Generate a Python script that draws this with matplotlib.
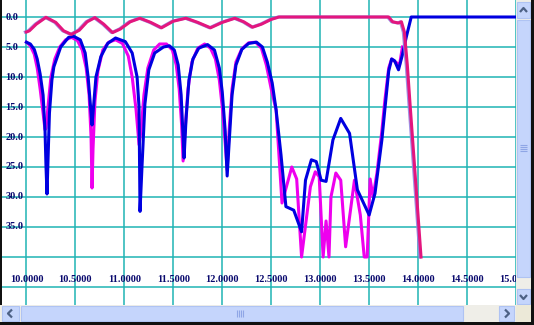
import numpy as np
import matplotlib.pyplot as plt
from matplotlib.patches import Rectangle
from matplotlib.lines import Line2D
import matplotlib.patheffects as pe

# frequency (x) values and response (y, inverted axis)
blue_x = [10.00, 10.04, 10.08, 10.11, 10.14, 10.17, 10.19, 10.20, 10.21, 10.22, 10.235, 10.26,
          10.28, 10.35, 10.43, 10.48, 10.55, 10.60, 10.63, 10.655, 10.67, 10.69, 10.71, 10.76,
          10.83, 10.91, 11.01, 11.08, 11.13, 11.15, 11.16, 11.18, 11.21, 11.25, 11.31, 11.40,
          11.46, 11.51, 11.55, 11.58, 11.60, 11.61, 11.63, 11.66, 11.70, 11.76, 11.85, 11.92,
          11.97, 12.00, 12.03, 12.05, 12.07, 12.10, 12.14, 12.20, 12.27, 12.35, 12.41, 12.46,
          12.51, 12.55, 12.60, 12.65, 12.73, 12.81, 12.85, 12.91, 12.96, 13.01, 13.06, 13.13,
          13.21, 13.30, 13.38, 13.50, 13.56, 13.63, 13.66, 13.70, 13.73, 13.76, 13.80, 13.84,
          13.88, 13.93, 15.00]
blue_y = [4.2, 4.5, 5.4, 7.0, 9.5, 13.0, 19.0, 25.0, 29.5, 24.0, 16.0, 10.5,
          8.3, 5.0, 3.4, 3.2, 3.8, 6.0, 10.0, 15.0, 18.0, 14.0, 10.0, 6.6,
          4.4, 3.5, 4.1, 6.0, 10.0, 15.0, 32.4, 25.0, 14.5, 8.8, 6.0, 5.0,
          4.8, 5.5, 8.0, 13.0, 20.0, 23.5, 17.0, 10.5, 7.0, 5.2, 4.6, 5.5,
          8.5, 12.5, 19.0, 26.5, 21.0, 13.0, 8.0, 5.4, 4.4, 4.2, 5.0, 7.5,
          11.0, 15.5, 23.0, 31.6, 32.2, 35.8, 27.2, 23.8, 24.1, 27.2, 27.4, 20.5,
          16.9, 19.4, 28.8, 33.0, 29.4, 20.5, 15.5, 9.0, 7.0, 7.3, 8.8, 6.3,
          3.3, 0.0, 0.0]

magenta_x = [10.00, 10.04, 10.08, 10.11, 10.14, 10.17, 10.19, 10.20, 10.22, 10.25, 10.29, 10.34,
             10.40, 10.46, 10.52, 10.57, 10.61, 10.64, 10.66, 10.67, 10.68, 10.70, 10.73, 10.78,
             10.84, 10.91, 10.98, 11.04, 11.08, 11.12, 11.15, 11.17, 11.20, 11.24, 11.30, 11.36,
             11.43, 11.49, 11.53, 11.56, 11.585, 11.60, 11.62, 11.65, 11.69, 11.75, 11.82, 11.88,
             11.93, 11.97, 12.00, 12.03, 12.05, 12.07, 12.10, 12.14, 12.20, 12.27, 12.34, 12.40,
             12.45, 12.50, 12.55, 12.61, 12.71, 12.76, 12.81, 12.90, 12.95, 12.99, 13.03, 13.06,
             13.09, 13.11, 13.16, 13.21, 13.26, 13.35, 13.41, 13.45, 13.48, 13.51, 13.54, 13.58,
             13.63, 13.66, 13.70, 13.73, 13.77, 13.81, 13.84]
magenta_y = [4.2, 4.8, 6.2, 8.5, 12.0, 16.0, 18.8, 18.5, 15.0, 10.0, 7.0, 5.0,
             3.8, 3.4, 3.9, 5.5, 8.5, 13.0, 20.0, 28.5, 22.0, 14.0, 9.0, 5.5,
             4.2, 3.8, 4.4, 6.5, 10.0, 15.5, 21.3, 19.0, 13.0, 8.5, 5.5, 4.5,
             4.5, 5.5, 8.0, 12.0, 18.0, 24.0, 19.0, 12.0, 7.5, 5.2, 4.5, 5.2,
             7.0, 10.5, 15.0, 21.0, 25.5, 19.0, 12.0, 7.5, 5.3, 4.3, 4.2, 5.2,
             8.0, 12.0, 15.5, 31.0, 25.0, 27.0, 40.0, 28.3, 25.8, 26.6, 40.0, 34.0,
             40.0, 30.0, 26.0, 27.2, 38.3, 27.2, 33.0, 40.0, 40.0, 27.0, 30.0, 26.0,
             19.0, 14.0, 8.5, 7.0, 7.5, 8.0, 5.0]

pink_x = [10.00, 10.03, 10.10, 10.20, 10.30, 10.38, 10.46, 10.54, 10.62, 10.70, 10.79, 10.88,
          10.96, 11.06, 11.16, 11.27, 11.38, 11.50, 11.63, 11.75, 11.88, 12.00, 12.13, 12.22,
          12.31, 12.40, 12.50, 12.58, 13.70, 13.74, 13.80, 13.83, 13.86, 13.89, 13.92, 13.96,
          14.03]
pink_y = [2.5, 2.3, 1.2, 0.05, 0.9, 2.3, 2.9, 2.2, 0.8, 0.1, 1.2, 2.6,
          2.0, 0.8, 0.2, 0.9, 1.8, 0.7, 0.2, 0.9, 1.8, 0.9, 0.2, 0.8,
          1.7, 1.2, 0.4, 0.0, 0.0, 0.8, 1.0, 0.8, 2.5, 8.0, 15.0, 24.0,
          40.0]

x_ticks = [10.0, 10.5, 11.0, 11.5, 12.0, 12.5, 13.0, 13.5, 14.0, 14.5, 15.0]
x_labels = ["10.0000", "10.5000", "11.0000", "11.5000", "12.0000", "12.5000",
            "13.0000", "13.5000", "14.0000", "14.5000", "15.0000"]
y_ticks = [0, 5, 10, 15, 20, 25, 30, 35, 40, 45]
y_labels = ["0.0", "5.0", "10.0", "15.0", "20.0", "25.0", "30.0", "35.0"]

W, H = 534, 325
fig = plt.figure(figsize=(W / 100, H / 100), dpi=100)
fig.patch.set_facecolor('white')


def fx(x):
    return x / W


def fy(y):
    return 1 - y / H


def box(x0, y0, x1, y1, fc, ec=None, lw=0.0):
    fig.patches.append(Rectangle((fx(x0), fy(y1)), fx(x1) - fx(x0), fy(y0) - fy(y1),
                                 transform=fig.transFigure, facecolor=fc,
                                 edgecolor=ec if ec else fc, linewidth=lw, zorder=5))


def glyph(xs, ys, color='#4D6185', lw=1.6):
    fig.lines.append(Line2D([fx(v) for v in xs], [fy(v) for v in ys],
                            transform=fig.transFigure, color=color, lw=lw,
                            solid_capstyle='butt', zorder=6))


# plot area: 100 px per x unit (10.0 at px 27), 6 px per y unit (0 at px 17)
ax = fig.add_axes([0, fy(305), fx(516), 305 / H])
ax.set_xlim(10 - 27 / 100, 10 + 489 / 100)
ax.set_ylim(288 / 6, -17 / 6)
for s in ax.spines.values():
    s.set_visible(False)
ax.set_xticks(x_ticks)
ax.set_yticks(y_ticks)
ax.tick_params(length=0, labelbottom=False, labelleft=False)
ax.grid(True, color='#1FB4B4', lw=1.1)
ax.set_axisbelow(True)

ax.plot(magenta_x, magenta_y, color='#EE00EE', lw=2.2, zorder=3)
ax.plot(blue_x, blue_y, color='#0000E0', lw=2.2, zorder=4)
ax.plot(pink_x, pink_y, color='#E3167E', lw=2.2, zorder=5,
        path_effects=[pe.SimpleLineShadow(offset=(-0.8, 0), shadow_color='#9585E0', alpha=0.9),
                      pe.Normal()])

lab_font = dict(family='Liberation Serif', weight='bold', size=7.5, color='#0A0A6E')
for v, lab in zip(y_ticks, y_labels):
    ax.text(9.785, v, lab, ha='left', va='center', clip_on=True, zorder=6, **lab_font)
for v, lab in zip(x_ticks, x_labels):
    ax.text(v, 43.7, lab, ha='center', va='center', clip_on=True, zorder=6, **lab_font)

# window frame and scroll bars
sb_face, sb_edge = '#C5D5FC', '#AFC3F3'
box(0, 305, 517, 322, '#EFEEE8')
box(2, 306, 19, 321, sb_face, sb_edge, 0.8)
box(21, 306, 463, 321, sb_face, sb_edge, 0.8)
box(499, 306, 514, 321, sb_face, sb_edge, 0.8)
box(516, 0, 531, 305, '#EFEEE8')
box(517, 2, 530, 18, sb_face, sb_edge, 0.8)
box(517, 20, 530, 277, sb_face, sb_edge, 0.8)
box(517, 289, 530, 304, sb_face, sb_edge, 0.8)
box(516, 305, 531, 322, '#ECE9D8')
box(531, 0, 534, 325, '#111111')
box(0, 322, 534, 325, '#111111')
box(0, 0, 1.5, 305, '#111111')

glyph([12, 8, 12], [309.5, 313.5, 317.5])
glyph([505, 509, 505], [309.5, 313.5, 317.5])
glyph([520, 523.5, 527], [12, 8, 12])
glyph([520, 523.5, 527], [295, 299, 295])
for gx in (237, 239, 241, 243):
    glyph([gx, gx], [310, 317], color='#8FA6E6', lw=0.8)
for gy in (145, 147, 149, 151):
    glyph([520, 527], [gy, gy], color='#8FA6E6', lw=0.8)

fig.savefig('out.png', dpi=100)
